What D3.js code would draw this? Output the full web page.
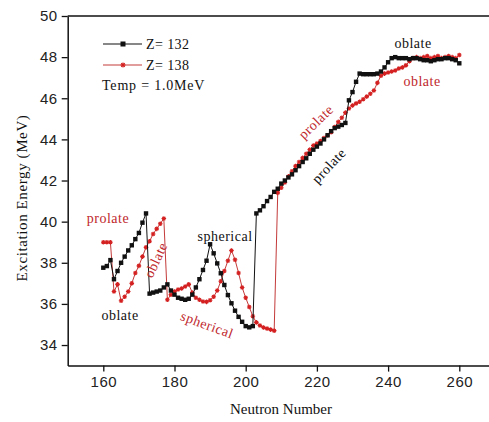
<!DOCTYPE html>
<html>
<head>
<meta charset="utf-8">
<script src="https://cdn.jsdelivr.net/npm/d3@7"></script>
<style>
  html, body { margin: 0; padding: 0; background: #fff; }
  svg { display: block; }
  .tick text { font-family: "Liberation Sans", Arial, sans-serif; font-size: 15px; fill: #222; letter-spacing: 0.5px; }
  .serif { font-family: "Liberation Serif", "Times New Roman", serif; }
</style>
</head>
<body>
<svg id="chart" width="489" height="422"></svg>
<script>
// ---- data ----
const neutron132 = d3.range(160, 261);
const energy132 = [
  37.76, 37.84, 38.13, 37.2, 37.6, 38.0, 38.3, 38.6, 38.85, 39.15,
  39.45, 39.95, 40.4, 36.5, 36.55, 36.6, 36.65, 36.8, 36.95, 36.65,
  36.45, 36.3, 36.25, 36.2, 36.25, 36.45, 36.8, 37.2, 37.65, 38.1,
  38.9, 38.46, 37.97, 37.49, 36.92, 36.43, 36.03, 35.67, 35.37, 35.13,
  34.92, 34.86, 34.92, 40.4, 40.55, 40.75, 41.0, 41.2, 41.45, 41.6,
  41.85, 42.0, 42.15, 42.3, 42.5, 42.7, 42.9, 43.08, 43.3, 43.5,
  43.65, 43.8, 44.0, 44.2, 44.4, 44.55, 44.62, 44.7, 44.8, 45.9,
  46.3, 46.8, 47.2, 47.17, 47.17, 47.17, 47.17, 47.2, 47.3, 47.5,
  47.75, 47.95, 48.0, 47.95, 47.95, 47.95, 47.9, 47.95, 47.95, 47.9,
  47.85, 47.85, 47.8, 47.85, 47.9, 47.9, 47.95, 47.95, 47.9, 47.85,
  47.7
];
const neutron138 = d3.range(160, 261);
const energy138 = [
  39.0, 39.0, 39.0, 36.6, 36.95, 36.15, 36.35, 36.6, 37.0, 37.5,
  37.85, 38.3, 38.75, 39.05, 39.4, 39.65, 39.9, 40.15, 36.2, 36.45,
  36.6, 36.7, 36.75, 36.85, 36.95, 36.55, 36.3, 36.2, 36.12, 36.1,
  36.18, 36.35, 36.65, 37.1, 37.6, 38.1, 38.6, 38.15, 37.5, 36.8,
  36.3, 35.85, 35.4, 35.1, 34.95, 34.85, 34.8, 34.75, 34.7, 41.4,
  41.65, 41.9, 42.2, 42.45, 42.7, 42.9, 43.1, 43.3, 43.5, 43.7,
  43.8, 43.92, 44.07, 44.2, 44.35, 44.6, 44.85, 45.05, 45.3, 45.5,
  45.65, 45.75, 45.83, 45.95, 46.08, 46.22, 46.38, 46.75, 47.1, 47.2,
  47.25, 47.3, 47.35, 47.45, 47.5, 47.6, 47.8, 47.95, 48.0, 47.95,
  48.0, 48.05, 47.95, 48.0, 48.05, 47.95, 48.0, 48.05, 48.0, 47.95,
  48.1
];
const xMajorTicks = [160, 180, 200, 220, 240, 260];
const xMinorTicks = [150, 170, 190, 210, 230, 250, 270];
const yMajorTicks = [34, 36, 38, 40, 42, 44, 46, 48, 50];
const yMinorTicks = [33, 35, 37, 39, 41, 43, 45, 47, 49];
const seriesNames = ["Z= 132", "Z= 138"];
const tempLabel = "Temp = 1.0MeV";
const xTitle = "Neutron Number";
const yTitle = "Excitation Energy (MeV)";

// ---- chart ----
const svg = d3.select("#chart");
const x = d3.scaleLinear().domain([150, 270]).range([67.7, 494.9]);
const y = d3.scaleLinear().domain([33, 50]).range([365.6, 16]);

const BLACK = "#111";
const RED = "#d42020";
const REDLINE = "#c43a3a";
const REDTEXT = "#c0282d";

// axes
const gx = svg.append("g").attr("transform", `translate(0,${y(33)})`);
gx.call(d3.axisBottom(x).tickValues(xMinorTicks).tickFormat("").tickSize(4).tickSizeOuter(0));
gx.call(d3.axisBottom(x).tickValues(xMajorTicks).tickSize(6).tickSizeOuter(0).tickPadding(5));
const gy = svg.append("g").attr("transform", `translate(${x(150)},0)`);
gy.call(d3.axisLeft(y).tickValues(yMinorTicks).tickFormat("").tickSize(4).tickSizeOuter(0));
gy.call(d3.axisLeft(y).tickValues(yMajorTicks).tickSize(6).tickSizeOuter(0).tickPadding(4));
svg.selectAll(".domain").attr("stroke", BLACK).attr("stroke-width", 1.5);
svg.selectAll(".tick line").attr("stroke", BLACK).attr("stroke-width", 1.3);
// top frame
svg.append("line").attr("x1", x(150)).attr("x2", x(270)).attr("y1", y(50)).attr("y2", y(50))
  .attr("stroke", BLACK).attr("stroke-width", 1.5);

// axis titles
svg.append("text").attr("class", "serif").attr("x", 281).attr("y", 414)
  .attr("text-anchor", "middle").attr("font-size", 15).attr("fill", BLACK).text(xTitle);
svg.append("text").attr("class", "serif")
  .attr("transform", "translate(27,198) rotate(-90)")
  .attr("text-anchor", "middle").attr("font-size", 15).attr("letter-spacing", 0.6)
  .attr("fill", BLACK).text(yTitle);

const d132 = neutron132.map((n, i) => [n, energy132[i]]);
const d138 = neutron138.map((n, i) => [n, energy138[i]]);
const line = d3.line().x(d => x(d[0])).y(d => y(d[1]));

// red series
svg.append("path").datum(d138).attr("d", line).attr("fill", "none")
  .attr("stroke", REDLINE).attr("stroke-width", 1);
const star = (g, cx, cy, s) => {
  g.append("path")
    .attr("d", `M${cx - s},${cy}H${cx + s}M${cx},${cy - s}V${cy + s}M${cx - s * 0.7},${cy - s * 0.7}L${cx + s * 0.7},${cy + s * 0.7}M${cx - s * 0.7},${cy + s * 0.7}L${cx + s * 0.7},${cy - s * 0.7}`)
    .attr("stroke", RED).attr("stroke-width", 1.1).attr("fill", "none");
};
const gRed = svg.append("g");
d138.forEach(d => star(gRed, x(d[0]), y(d[1]), 2.3));

// black series
svg.append("path").datum(d132).attr("d", line).attr("fill", "none")
  .attr("stroke", BLACK).attr("stroke-width", 1);
svg.append("g").selectAll("rect").data(d132).join("rect")
  .attr("x", d => x(d[0]) - 2.2).attr("y", d => y(d[1]) - 2.2)
  .attr("width", 4.4).attr("height", 4.4).attr("fill", BLACK);

// legend
svg.append("line").attr("x1", 103).attr("x2", 142).attr("y1", 44).attr("y2", 44).attr("stroke", BLACK).attr("stroke-width", 1.2);
svg.append("rect").attr("x", 120.5).attr("y", 41.5).attr("width", 5).attr("height", 5).attr("fill", BLACK);
svg.append("line").attr("x1", 103).attr("x2", 142).attr("y1", 65).attr("y2", 65).attr("stroke", REDLINE).attr("stroke-width", 1.2);
star(svg, 123, 65, 2.6);
svg.append("text").attr("class", "serif").attr("x", 146).attr("y", 49).attr("font-size", 14).attr("letter-spacing", 0.4).attr("fill", BLACK).text(seriesNames[0]);
svg.append("text").attr("class", "serif").attr("x", 146).attr("y", 70).attr("font-size", 14).attr("letter-spacing", 0.4).attr("fill", BLACK).text(seriesNames[1]);
svg.append("text").attr("class", "serif").attr("x", 102).attr("y", 90).attr("font-size", 14).attr("letter-spacing", 0.8).attr("fill", BLACK).text(tempLabel);

// annotations
const notes = [
  { t: "prolate", x: 108, y: 218, r: 0, c: REDTEXT },
  { t: "oblate", x: 120, y: 315, r: 0, c: BLACK },
  { t: "oblate", x: 156, y: 260, r: -65, c: REDTEXT },
  { t: "spherical", x: 225, y: 236, r: 0, c: BLACK },
  { t: "spherical", x: 207, y: 325, r: 20, c: REDTEXT },
  { t: "prolate", x: 316, y: 122, r: -44, c: REDTEXT },
  { t: "prolate", x: 329, y: 166, r: -47, c: BLACK },
  { t: "oblate", x: 413, y: 43, r: 0, c: BLACK },
  { t: "oblate", x: 422, y: 81, r: 0, c: REDTEXT }
];
notes.forEach(n => {
  svg.append("text").attr("class", "serif")
    .attr("transform", `translate(${n.x},${n.y}) rotate(${n.r})`)
    .attr("text-anchor", "middle").attr("dominant-baseline", "central")
    .attr("font-size", 14).attr("letter-spacing", 0.5).attr("fill", n.c).text(n.t);
});
</script>
</body>
</html>
